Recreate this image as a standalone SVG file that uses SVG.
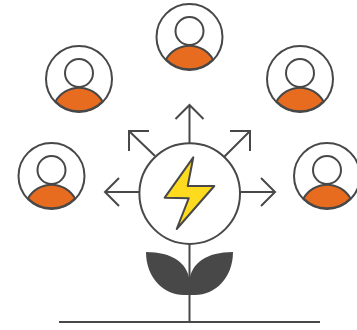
<svg xmlns="http://www.w3.org/2000/svg" width="357" height="330" viewBox="0 0 357 330">
<style>
.l{fill:none;stroke:#484848;stroke-width:2}
.c{fill:#fff;stroke:#484848;stroke-width:2}
.b{fill:#e86c1f;stroke:#484848;stroke-width:2;stroke-linejoin:round}
</style>
<defs>
<g id="person">
<circle class="c" r="33"/>
<circle class="c" cy="-6" r="14"/>
<path class="b" d="M-23.500,22.500A27,27 0 0 1 23.500,22.500A33,33 0 0 1 -23.500,22.500Z"/>
</g>
</defs>
<g id="connectors">
<path class="l" d="M139,192H105M119,178L105,192L119,206"/>
<path class="l" d="M240,192H275M261,178L275,192L261,206"/>
<path class="l" d="M189.500,144V105M175.500,119L189.500,105L203.500,119"/>
<path class="l" d="M155,156L129,131M129,151V131H149"/>
<path class="l" d="M224,157L250,131M230,131H250V151"/>
<path class="l" d="M189.500,244V322M59,322H320"/>
</g>
<g id="leaves" fill="#484848">
<path d="M146,252C172,252 188,263 189.500,281C191,263 207,252 233,252C233,278 215,295 195,295H184C164,295 146,278 146,252Z"/>
</g>
<g id="hub">
<circle class="c" cx="189.700" cy="193.600" r="50.300"/>
<path d="M193.300,157.300L187.700,186H214.300L176.700,229L188.700,198.300L164.700,197.700Z" fill="#fedb1f" stroke="#484848" stroke-width="2" stroke-linejoin="round"/>
</g>
<g id="person-top"><use href="#person" x="189.500" y="37"/></g>
<g id="person-upper-left"><use href="#person" x="79" y="79"/></g>
<g id="person-upper-right"><use href="#person" x="300" y="79"/></g>
<g id="person-left"><use href="#person" x="51.500" y="176"/></g>
<g id="person-right"><use href="#person" x="327" y="176"/></g>
</svg>
